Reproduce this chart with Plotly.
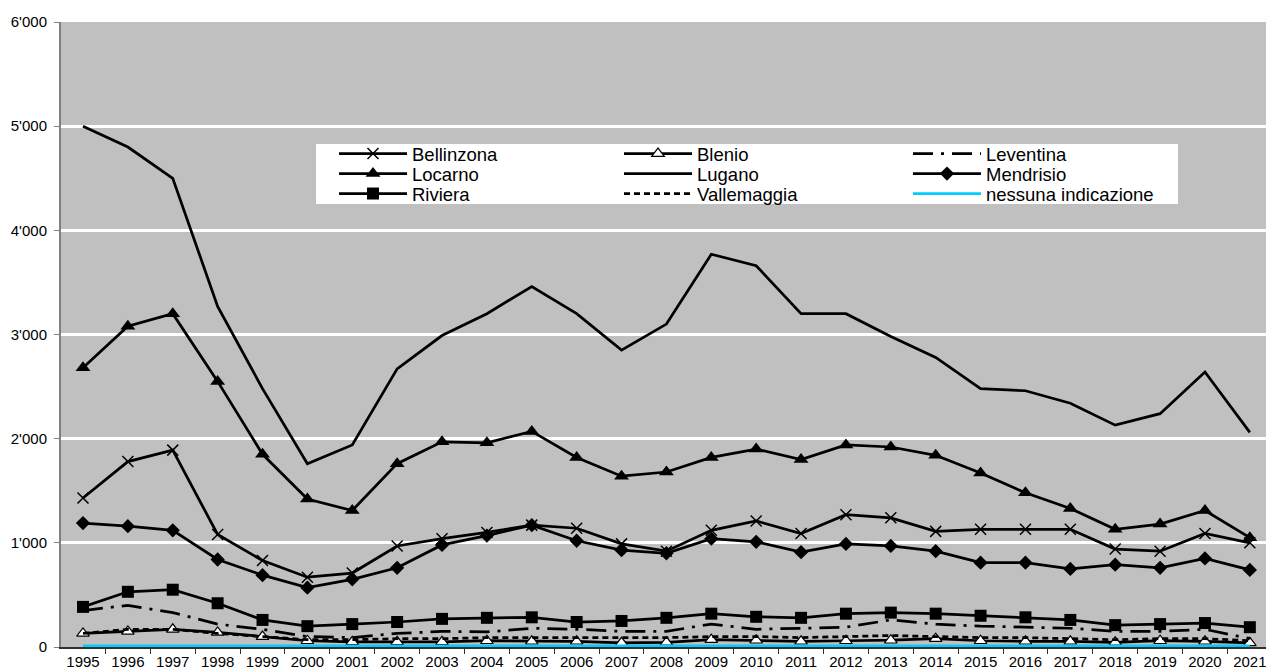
import plotly.graph_objects as go

years = [str(y) for y in range(1995, 2022)]

bellinzona = [1430, 1780, 1890, 1080, 830, 670, 710, 970, 1040, 1100, 1170, 1140, 990, 920, 1120, 1210, 1090, 1270, 1240, 1110, 1130, 1130, 1130, 940, 920, 1090, 1000]
blenio = [130, 150, 170, 140, 100, 60, 50, 50, 50, 60, 55, 55, 40, 45, 70, 65, 55, 60, 65, 80, 60, 55, 55, 45, 60, 55, 40]
leventina = [350, 400, 330, 220, 170, 100, 90, 130, 150, 145, 180, 170, 150, 150, 220, 170, 180, 190, 260, 220, 200, 190, 180, 150, 150, 170, 80]
locarno = [2680, 3080, 3200, 2550, 1850, 1420, 1310, 1760, 1970, 1960, 2070, 1820, 1640, 1680, 1820, 1900, 1800, 1940, 1920, 1840, 1670, 1480, 1330, 1130, 1180, 1310, 1050]
lugano = [5000, 4800, 4500, 3270, 2480, 1760, 1940, 2670, 2990, 3200, 3460, 3200, 2850, 3100, 3770, 3660, 3200, 3200, 2980, 2780, 2480, 2460, 2340, 2130, 2240, 2640, 2060]
mendrisio = [1190, 1160, 1120, 840, 690, 570, 650, 760, 980, 1070, 1170, 1020, 930, 900, 1040, 1010, 910, 990, 970, 920, 810, 810, 750, 790, 760, 850, 740]
riviera = [385, 530, 550, 420, 260, 200, 220, 240, 270, 280, 285, 240, 250, 280, 320, 290, 280, 320, 330, 320, 300, 285, 260, 210, 220, 230, 190]
vallemaggia = [130, 170, 170, 130, 100, 70, 70, 80, 80, 90, 90, 90, 90, 90, 100, 100, 90, 100, 110, 100, 90, 90, 80, 70, 80, 80, 60]
nessuna = [10] * 27

y_ticks = [0, 1000, 2000, 3000, 4000, 5000, 6000]

# page geometry of the plot area
W, H = 1266, 670
PL, PR, PT, PB = 61, 1266, 22, 647
PW, PH = PR - PL, PB - PT


def px_x(x):
    return (x - PL) / PW


def px_y(y):
    return (PB - y) / PH


LW = 2.75
FONT = "Liberation Sans, Arial, sans-serif"
series = [
    ("Bellinzona", bellinzona, dict(symbol="x-thin-open", size=11, color="black", line=dict(color="black", width=1.5)), "solid", "black", "lines+markers"),
    ("Blenio", blenio, dict(symbol="triangle-up", size=11, color="white", line=dict(color="black", width=1.2)), "solid", "black", "lines+markers"),
    ("Leventina", leventina, None, "20px,8px,3px,8px", "black", "lines"),
    ("Locarno", locarno, dict(symbol="triangle-up", size=13, color="black"), "solid", "black", "lines+markers"),
    ("Lugano", lugano, None, "solid", "black", "lines"),
    ("Mendrisio", mendrisio, dict(symbol="diamond", size=11, color="black"), "solid", "black", "lines+markers"),
    ("Riviera", riviera, dict(symbol="square", size=12, color="black"), "solid", "black", "lines+markers"),
    ("Vallemaggia", vallemaggia, None, "6px,4px", "black", "lines"),
    ("nessuna indicazione", nessuna, None, "solid", "#00CCFF", "lines"),
]

# legend grid: 3 columns x 3 rows, row-major
col_text_x = [412, 697, 986]
row_center_y = [154, 174, 194]
ITEMW = 68

fig = go.Figure()
legends = {}
for i, (name, vals, marker, dash, color, mode) in enumerate(series):
    lname = "legend" if i == 0 else f"legend{i + 1}"
    kw = dict(x=years, y=vals, name=name, mode=mode, legend=lname,
              line=dict(color=color, width=LW, dash=dash))
    if marker:
        kw["marker"] = marker
    fig.add_trace(go.Scatter(**kw))
    r, c = divmod(i, 3)
    legends[lname] = dict(
        x=px_x(col_text_x[c] - ITEMW - 10), y=px_y(row_center_y[r]),
        xanchor="left", yanchor="middle",
        bgcolor="rgba(0,0,0,0)", borderwidth=0,
        itemwidth=ITEMW,
        font=dict(size=18.5, family=FONT, color="black"),
    )

fig.update_layout(
    width=W, height=H,
    margin=dict(l=PL, r=W - PR, t=PT, b=H - PB),
    paper_bgcolor="white",
    plot_bgcolor="#C0C0C0",
    separators=".'",
    font=dict(family=FONT, size=15, color="black"),
    showlegend=True,
    shapes=[dict(type="rect", xref="paper", yref="paper", layer="above",
                 x0=px_x(316), x1=px_x(1178), y0=px_y(204), y1=px_y(144),
                 fillcolor="white", line=dict(width=0))],
    **legends,
)
fig.update_xaxes(
    type="category", range=[-0.49, 26.36],
    showgrid=False, showline=True, linecolor="#303030", linewidth=1.5,
    ticks="outside", tickson="boundaries", ticklen=5, tickcolor="#303030",
    tickfont=dict(size=15), automargin=False, zeroline=False, layer="below traces",
)
fig.update_yaxes(
    range=[0, 6000], tickvals=y_ticks, tickformat=",d",
    showgrid=True, gridcolor="white", gridwidth=2.5,
    showline=True, linecolor="#808080", linewidth=2,
    ticks="outside", ticklen=5, tickcolor="#808080", ticklabelstandoff=4,
    tickfont=dict(size=15), automargin=False, zeroline=False, layer="below traces",
)

fig.write_html(
    "out.html",
    config={"displayModeBar": False},
    post_script="document.body.style.margin='0';document.body.style.overflow='hidden';",
)
